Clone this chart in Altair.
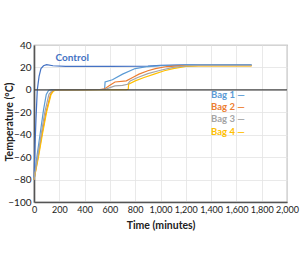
import altair as alt
import pandas as pd

series_names = ["Control", "Bag 1", "Bag 2", "Bag 4", "Bag 3"]
series_colors = ["#4472c4", "#5b9bd5", "#ed7d31", "#ffc000", "#a5a5a5"]

control_t = [0, 8, 16, 26, 40, 55, 75, 100, 150, 250, 600, 900, 1000, 1200, 1720]
control_v = [-80, -50, -25, 0, 12, 19, 21.5, 22.5, 21.5, 21, 21, 21.2, 21.8, 22.3, 22.3]

bag1_t = [0, 25, 50, 75, 97, 115, 135, 540, 558, 562, 620, 700, 800, 900, 1000, 1200, 1720]
bag1_v = [-80, -58, -38, -18, -4, -0.5, 0, 0.3, 0.6, 7, 9, 14, 19, 20.8, 21.5, 22.0, 22.0]

bag2_t = [0, 32, 62, 95, 131, 150, 170, 520, 560, 600, 640, 730, 780, 830, 900, 960, 1050, 1150, 1300, 1720]
bag2_v = [-80, -60, -40, -20, -4, -1, 0, 0.3, 1, 4, 7, 8, 11, 14, 17, 19, 20.8, 21.3, 21.6, 21.6]

bag3_t = [0, 28, 56, 85, 118, 140, 160, 560, 600, 640, 700, 740, 760, 820, 900, 1000, 1100, 1200, 1300, 1720]
bag3_v = [-80, -60, -40, -20, -4, -1, 0, 0.3, 2, 3.5, 4, 5, 8, 11, 14.5, 17.5, 20, 21.3, 21.8, 21.8]

bag4_t = [0, 35, 66, 99, 135, 155, 180, 730, 745, 748, 800, 870, 950, 1030, 1100, 1200, 1300, 1720]
bag4_v = [-80, -60, -40, -20, -4, -1, 0, 0.2, 0.5, 5, 8, 11, 14, 17, 19, 21, 21.4, 21.4]

legend_labels = ["Bag 1 —", "Bag 2 —", "Bag 3 —", "Bag 4 —"]
legend_series = ["Bag 1", "Bag 2", "Bag 3", "Bag 4"]
legend_t = [1400, 1400, 1400, 1400]
legend_v = [-4.5, -15, -26, -37.5]

control_label = "Control"
control_label_t = 170
control_label_v = 28

x_ticks = list(range(0, 2001, 200))
y_ticks = list(range(-100, 41, 20))

rows = []
for name, ts, vs in [("Control", control_t, control_v), ("Bag 1", bag1_t, bag1_v),
                     ("Bag 2", bag2_t, bag2_v), ("Bag 4", bag4_t, bag4_v),
                     ("Bag 3", bag3_t, bag3_v)]:
    for i, (t, v) in enumerate(zip(ts, vs)):
        rows.append({"series": name, "t": t, "v": v, "order": i})
df = pd.DataFrame(rows)

FONT = "Lato"
color_scale = alt.Scale(domain=series_names, range=series_colors)
xs = alt.Scale(domain=[0, 2000], nice=False)
ys = alt.Scale(domain=[-100, 40], nice=False)

x_axis = alt.Axis(values=x_ticks, format=",d", title="Time (minutes)",
                  titleY=23, titleBaseline="middle", labelFontSize=9)
y_axis = alt.Axis(values=y_ticks, title="Temperature (°C)",
                  titleX=-25, titleY=76.5, titleBaseline="middle", labelFontSize=10)


def X():
    return alt.X("t:Q", scale=xs, axis=x_axis)


def Y():
    return alt.Y("v:Q", scale=ys, axis=y_axis)


col = alt.Color("series:N", scale=color_scale, legend=None)

lines = alt.Chart(df).mark_line(strokeWidth=1.2).encode(
    x=X(), y=Y(), color=col, order="order:Q", detail="series:N")

zero = alt.Chart(pd.DataFrame({"v": [0]})).mark_rule(color="#444", strokeWidth=1.3).encode(
    y=Y())

leg_df = pd.DataFrame({"label": legend_labels, "series": legend_series,
                       "t": legend_t, "v": legend_v})
leg = alt.Chart(leg_df).mark_text(align="left", baseline="middle", font=FONT,
                                  fontSize=9.5, fontWeight="bold").encode(
    x=X(), y=Y(), text="label:N", color=col)

ctl_df = pd.DataFrame({"label": [control_label], "series": ["Control"],
                       "t": [control_label_t], "v": [control_label_v]})
ctl = alt.Chart(ctl_df).mark_text(align="left", baseline="middle", font=FONT,
                                  fontSize=10, fontWeight="bold").encode(
    x=X(), y=Y(), text="label:N", color=col)

chart = alt.layer(lines, zero, leg, ctl).properties(
    width=253, height=157,
    padding={"left": 34, "top": 45, "right": 13, "bottom": 60},
    autosize=alt.AutoSizeParams(type="none"),
    background="white",
).configure_view(stroke="#999", strokeWidth=1.2).configure_axis(
    tickSize=0, labelPadding=3, titleFontSize=10.5,
    labelFont=FONT, titleFont=FONT, titleFontWeight="bold",
    labelColor="#222", titleColor="#222", domainColor="#555", domainWidth=1.6,
    gridColor="#e3e3e3", gridWidth=0.8, labelOverlap=False, labelFlush=False,
    labelBound=False)

chart.save("out.html", embed_options={"renderer": "svg", "actions": False})
